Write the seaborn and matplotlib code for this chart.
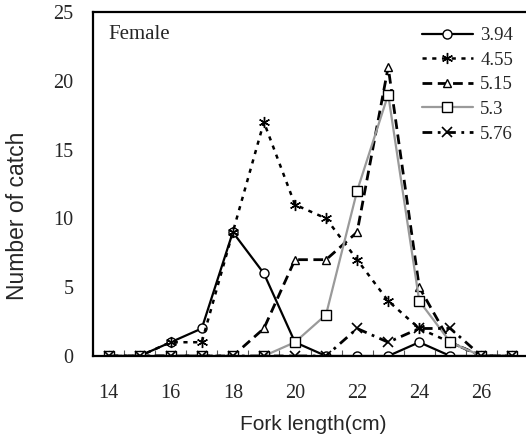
import matplotlib
matplotlib.use("Agg")
import matplotlib.pyplot as plt
import seaborn as sns
import numpy as np
import pandas as pd

# ---- data ----
fork_length = [14, 15, 16, 17, 18, 19, 20, 21, 22, 23, 24, 25, 26, 27]
s_394 = [0, 0, 1, 2, 9, 6, 1, 0, 0, 0, 1, 0, 0, 0]
s_455 = [0, 0, 1, 1, 9, 17, 11, 10, 7, 4, 2, 1, 0, 0]
s_515 = [0, 0, 0, 0, 0, 2, 7, 7, 9, 21, 5, 1, 0, 0]
s_530 = [0, 0, 0, 0, 0, 0, 1, 3, 12, 19, 4, 1, 0, 0]
s_576 = [0, 0, 0, 0, 0, 0, 0, 0, 2, 1, 2, 2, 0, 0]
series_labels = ["3.94", "4.55", "5.15", "5.3", "5.76"]
x_ticks = [14, 16, 18, 20, 22, 24, 26]
y_ticks = [0, 5, 10, 15, 20, 25]

sns.set_theme(style="white")
plt.rcParams["lines.scale_dashes"] = False
serif = ["Liberation Serif", "DejaVu Serif"]
sans = ["Liberation Sans", "DejaVu Sans"]

fig = plt.figure(figsize=(5.26, 4.46), dpi=100)
ax = fig.add_axes([93 / 526, 1 - 356 / 446, 435 / 526, (356 - 12) / 446])

styles = [
    dict(color="black", lw=1.6, ls="-", marker="o", ms=6.5, mfc="white", mec="black", mew=1.0),
    dict(color="black", lw=1.8, ls=(0, (3, 4)), marker=(6, 2, 0), ms=8, mec="black", mew=1.0),
    dict(color="black", lw=2.0, ls=(0, (7, 4)), marker="^", ms=6, mfc="white", mec="black", mew=1.0),
    dict(color="#9a9a9a", lw=1.6, ls="-", marker="s", ms=6.5, mfc="white", mec="black", mew=1.0),
    dict(color="black", lw=2.0, ls=(0, (7, 4, 2, 4)), marker="x", ms=7, mec="black", mew=1.2),
]
all_series = [s_394, s_455, s_515, s_530, s_576]
for vals, lab, st in zip(all_series, series_labels, styles):
    df = pd.DataFrame({"x": fork_length, "y": vals})
    sns.lineplot(data=df, x="x", y="y", ax=ax, label=lab, **st)

ax.set_xlim(13.5, 27.5)
ax.set_ylim(0, 25)
ax.set_xticks(x_ticks)
ax.set_xticks(np.arange(13.5, 28, 1.0), minor=True)
ax.set_yticks(y_ticks)
ax.tick_params(axis="x", which="major", length=0, pad=20, labelsize=14.5)
ax.tick_params(axis="x", which="minor", length=4, width=0.8, direction="in", color="#555555", bottom=True)
ax.tick_params(axis="y", which="major", length=0, pad=14, labelsize=14.5)
for lbl in ax.get_xticklabels() + ax.get_yticklabels():
    lbl.set_fontfamily(serif)

for side in ["left", "bottom", "top"]:
    ax.spines[side].set_visible(True)
    ax.spines[side].set_color("black")
    ax.spines[side].set_linewidth(1.6)
ax.spines["right"].set_visible(False)

ax.set_xlabel("Fork length(cm)", fontsize=15, family=sans)
ax.set_ylabel("Number of catch", fontsize=16.5, family=sans)
ax.xaxis.set_label_coords((313 - 93) / 435, -(425 - 356) / 344)
ax.yaxis.set_label_coords(-(93 - 18) / 435, (356 - 216) / 344)
ax.xaxis.label.set_va("center")
ax.yaxis.label.set_va("center")

ax.text(0.035, 0.935, "Female", transform=ax.transAxes, fontsize=15,
        family=serif, ha="left", va="center")

leg = ax.legend(loc="upper right", bbox_to_anchor=(1.0, 1.0), frameon=False,
                prop={"family": serif, "size": 13.5}, handlelength=2.7,
                handletextpad=0.4, labelspacing=0.4, borderaxespad=0.4)

fig.savefig("out.png", dpi=100)
